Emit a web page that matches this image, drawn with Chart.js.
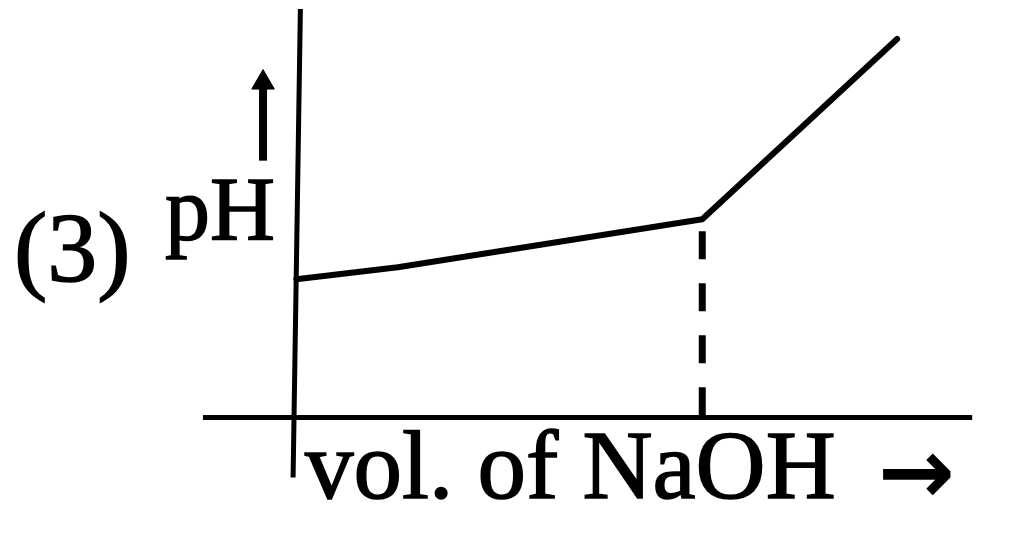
<!DOCTYPE html>
<html>
<head>
<meta charset="utf-8">
<script src="https://cdn.jsdelivr.net/npm/chart.js@4"></script>
<style>
  html, body { margin: 0; padding: 0; background: #fff; }
  #wrap { width: 1027px; height: 536px; }
</style>
</head>
<body>
<div id="wrap"><canvas id="ph-plot"></canvas></div>
<script>
// titration sketch: volume of NaOH (arbitrary units) vs pH
const volume = [0, 2.5, 10, 14.8];
const pH = [4.6, 5.0, 6.6, 12.6];
const equivalenceVol = 10;
const equivalencePH = 6.2;

// axes of the sketch
const xAxisVol = [-2.3, 16.65];
const yAxisPH = [-2.0, 13.6];

// labels
const yLabelNum = '(3)';
const yLabel = 'pH';
const xLabel = 'vol. of NaOH';
const xArrow = '\u2192';

// the small up arrow beside pH
const upArrowVol = -0.82;
const upArrowPH = [8.55, 11.15];

const ink = '#000';

function heavyText(c, txt, x, y) {
  c.fillText(txt, x, y);
  c.strokeText(txt, x, y);
}

const sketchText = {
  id: 'sketchText',
  afterDraw(chart) {
    const c = chart.ctx;
    c.save();
    c.fillStyle = ink;
    c.strokeStyle = ink;
    c.lineWidth = 1.5;
    c.textBaseline = 'alphabetic';
    c.font = '100px "Liberation Serif"';
    heavyText(c, yLabelNum, 14, 281);
    c.font = '90px "Liberation Serif"';
    heavyText(c, yLabel, 165, 240);
    c.font = '97px "Liberation Serif"';
    heavyText(c, xLabel, 305, 498);
    c.font = 'bold 92px "DejaVu Sans"';
    c.fillText(xArrow, 878, 503);
    c.restore();
  }
};

new Chart(document.getElementById('ph-plot').getContext('2d'), {
  type: 'scatter',
  data: {
    datasets: [
      {
        label: 'x axis',
        data: xAxisVol.map(v => ({ x: v, y: 0 })),
        showLine: true, borderColor: ink, borderWidth: 5, pointRadius: 0
      },
      {
        label: 'y axis',
        data: [{ x: -0.08, y: yAxisPH[0] }, { x: 0.1, y: yAxisPH[1] }],
        showLine: true, borderColor: ink, borderWidth: 5, pointRadius: 0
      },
      {
        label: 'pH curve',
        data: volume.map((v, i) => ({ x: v, y: pH[i] })),
        showLine: true, borderColor: ink, borderWidth: 6, pointRadius: 0,
        borderJoinStyle: 'round', borderCapStyle: 'round'
      },
      {
        label: 'equivalence',
        data: [{ x: equivalenceVol, y: equivalencePH }, { x: equivalenceVol, y: 0 }],
        showLine: true, borderColor: ink, borderWidth: 7, pointRadius: 0,
        borderDash: [28, 24]
      },
      {
        label: 'up arrow',
        data: upArrowPH.map(p => ({ x: upArrowVol, y: p })),
        showLine: true, borderColor: ink, borderWidth: 8,
        pointStyle: 'triangle', backgroundColor: ink, pointBorderWidth: 1,
        pointRadius: ctx => ctx.dataIndex === 1 ? 13 : 0
      }
    ]
  },
  options: {
    responsive: true,
    maintainAspectRatio: false,
    animation: false,
    layout: { padding: 0, autoPadding: false },
    plugins: { legend: { display: false }, tooltip: { enabled: false } },
    scales: {
      x: { type: 'linear', min: -7.3, max: 18, display: false },
      y: { type: 'linear', min: -3.95, max: 13.9, display: false }
    }
  },
  plugins: [sketchText]
});
</script>
</body>
</html>
